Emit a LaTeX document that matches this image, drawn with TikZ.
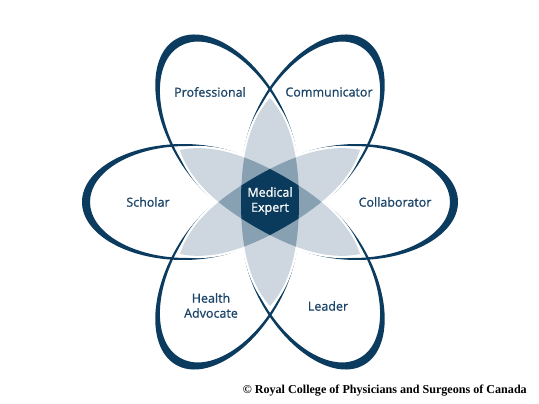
\documentclass[tikz,border=0pt]{standalone}
\usepackage{fontspec}
\setmainfont{Open Sans}
\newfontfamily\lblfont{Open Sans}[FakeBold=0.8]
\newfontfamily\crfont{Liberation Serif}
\usepackage{graphicx}
\definecolor{navy}{HTML}{0B3B5E}
\definecolor{lightg}{HTML}{CED7DF}
\definecolor{medg}{HTML}{87A0B2}
\definecolor{darkn}{HTML}{0A3A5C}
\definecolor{txt}{HTML}{1B4469}
\tikzset{
  lbl/.style={text=txt, font=\lblfont\fontsize{12.5}{15}\selectfont, align=center, inner sep=0pt},
  lensp/.style={insert path={(0,104) .. controls (16,86) and (29,57) .. (29,0) .. controls (29,-57) and (16,-86) .. (0,-104) .. controls (-16,-86) and (-29,-57) .. (-29,0) .. controls (-29,57) and (-16,86) .. (0,104) -- cycle}},
  petalring/.style={fill=navy, even odd rule}
}
\begin{document}
\begin{tikzpicture}[x=1pt,y=1pt]
\useasboundingbox[fill=white] (-270,-202) rectangle (269,202);
% petals
\foreach \a in {0,60,...,300}{
  \begin{scope}[rotate=\a]
    \path[petalring] (87,0) ellipse [x radius=101pt, y radius=58pt] (83,0) ellipse [x radius=97pt, y radius=56pt];
  \end{scope}
}
% white halo round the lenses
\foreach \a in {0,60,-60}{
  \begin{scope}[rotate=\a]
    \draw[white, line width=4.5pt, lensp];
  \end{scope}
}
% light lenses
\foreach \a in {0,60,-60}{
  \begin{scope}[rotate=\a]
    \fill[lightg, lensp];
  \end{scope}
}
% pairwise overlaps
\begin{scope}
  \clip[lensp];
  \begin{scope}[rotate=60]\fill[medg, lensp];\end{scope}
  \begin{scope}[rotate=-60]\fill[medg, lensp];\end{scope}
\end{scope}
\begin{scope}[rotate=60]
  \clip[lensp];
  \begin{scope}[rotate=-120]\fill[medg, lensp];\end{scope}
\end{scope}
% triple overlap
\begin{scope}
  \clip[lensp];
  \begin{scope}[rotate=60]
    \clip[lensp];
    \begin{scope}[rotate=-120]\fill[darkn, lensp];\end{scope}
  \end{scope}
\end{scope}
% labels
\node[lbl] (prof) at (-60,110) {Professional};
\node[lbl] (comm) at (59,110) {Communicator};
\node[lbl] (schol) at (-122,0) {Scholar};
\node[lbl] (collab) at (125,0) {Collaborator};
\node[lbl] (health) at (-59,-103.5) {Health\\Advocate};
\node[lbl] (lead) at (58,-104) {Leader};
\node[lbl, text=white] (med) at (0,1) {Medical\\Expert};
\node[inner sep=0pt, anchor=east] (copy) at (257,-189) {\resizebox{284pt}{!}{\crfont\bfseries © Royal College of Physicians and Surgeons of Canada}};
\end{tikzpicture}
\end{document}
